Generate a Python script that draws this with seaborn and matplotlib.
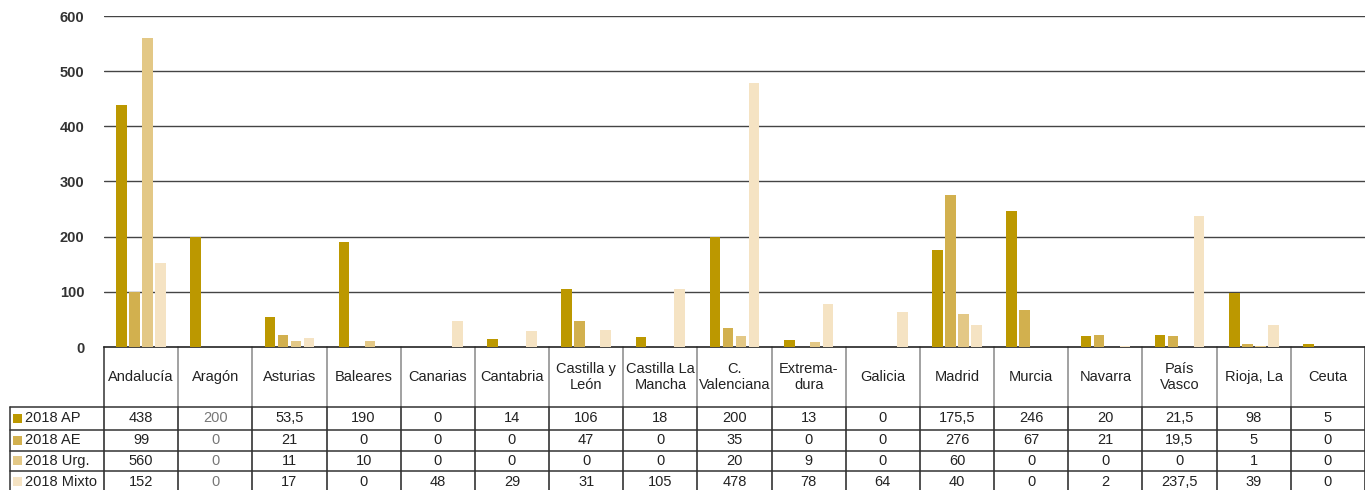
import matplotlib
matplotlib.use("Agg")
import matplotlib.pyplot as plt
import matplotlib.transforms as mtransforms
from matplotlib.lines import Line2D
from matplotlib.patches import Rectangle
import seaborn as sns
import pandas as pd

categories = ["Andalucía", "Aragón", "Asturias", "Baleares", "Canarias", "Cantabria",
              "Castilla y León", "Castilla La Mancha", "C. Valenciana", "Extremadura",
              "Galicia", "Madrid", "Murcia", "Navarra", "País Vasco", "Rioja, La", "Ceuta"]
header_labels = ["Andalucía", "Aragón", "Asturias", "Baleares", "Canarias", "Cantabria",
                 "Castilla y\nLeón", "Castilla La\nMancha", "C.\nValenciana", "Extrema-\ndura",
                 "Galicia", "Madrid", "Murcia", "Navarra", "País\nVasco", "Rioja, La", "Ceuta"]
series_names = ["2018 AP", "2018 AE", "2018 Urg.", "2018 Mixto"]
ap = [438, 200, 53.5, 190, 0, 14, 106, 18, 200, 13, 0, 175.5, 246, 20, 21.5, 98, 5]
ae = [99, 0, 21, 0, 0, 0, 47, 0, 35, 0, 0, 276, 67, 21, 19.5, 5, 0]
urg = [560, 0, 11, 10, 0, 0, 0, 0, 20, 9, 0, 60, 0, 0, 0, 1, 0]
mixto = [152, 0, 17, 0, 48, 29, 31, 105, 478, 78, 64, 40, 0, 2, 237.5, 39, 0]
yticks = [0, 100, 200, 300, 400, 500, 600]
colors = ["#BC9800", "#D2B04E", "#E3C886", "#F5E3C3"]

series_values = [ap, ae, urg, mixto]
rows = []
for name, vals in zip(series_names, series_values):
    for c, v in zip(categories, vals):
        rows.append({"region": c, "serie": name, "value": v})
df = pd.DataFrame(rows)

sns.set_style("white")
plt.rcParams["font.family"] = ["Liberation Sans", "DejaVu Sans"]

W, H = 1365, 490
fig = plt.figure(figsize=(W / 100, H / 100), dpi=100)
ax_left, ax_right, ax_top, ax_bot = 104, 1365, 16, 347
ax = fig.add_axes([ax_left / W, 1 - ax_bot / H, (ax_right - ax_left) / W, (ax_bot - ax_top) / H])

sns.barplot(data=df, x="region", y="value", hue="serie", order=categories,
            hue_order=series_names, palette=colors, width=0.7, gap=0.18,
            saturation=1, legend=False, ax=ax, zorder=3, linewidth=0)

ax.set_xlim(-0.5, len(categories) - 0.5)
ax.set_ylim(0, 600)
ax.set_yticks(yticks)
ax.set_yticklabels([str(t) for t in yticks], fontsize=10.5, fontweight="bold", color="#333333")
ax.tick_params(axis="y", length=0, pad=14)
ax.set_xticks([])
ax.set_xlabel("")
ax.set_ylabel("")
for y in yticks[1:]:
    ax.axhline(y, color="#444444", lw=1, zorder=1)
for s in ["top", "right", "left"]:
    ax.spines[s].set_visible(False)
ax.spines["bottom"].set_color("#222222")
ax.spines["bottom"].set_linewidth(1.2)

# ---- data table below the chart ----
tr = mtransforms.blended_transform_factory(ax.transData, fig.transFigure)
def fy(py):
    return 1 - py / H

header_top, header_bot = 347, 407
row_edges = [407, 429.5, 450.5, 471, 492]
label_left = 10
n = len(categories)
line_col = "#333333"

# vertical lines between categories
for i in range(n + 1):
    x = i - 0.5
    hc = "#888888" if 0 < i < n else "#333333"
    ax.add_line(Line2D([x, x], [fy(header_top), fy(header_bot)], transform=tr,
                       color=hc, lw=1.1, clip_on=False))
    ax.add_line(Line2D([x, x], [fy(header_bot), fy(H + 5)], transform=tr,
                       color="#222222", lw=1.1, clip_on=False))
# left border of row label column
fig.add_artist(Line2D([label_left / W, label_left / W], [fy(header_bot), fy(H + 5)],
                      transform=fig.transFigure, color=line_col, lw=1.1))
# horizontal lines
for py in row_edges[:-1]:
    fig.add_artist(Line2D([label_left / W, 1], [fy(py), fy(py)],
                          transform=fig.transFigure, color=line_col, lw=1.1))

# header labels
for i, lab in enumerate(header_labels):
    ax.text(i, fy((header_top + header_bot) / 2), lab, transform=tr, ha="center",
            va="center", fontsize=10.5, color="#222222", linespacing=1.15, clip_on=False)

def fmt(v):
    if float(v).is_integer():
        return str(int(v))
    return str(v).replace(".", ",")

for r, (name, vals, col) in enumerate(zip(series_names, series_values, colors)):
    yc = fy((row_edges[r] + row_edges[r + 1]) / 2)
    fig.add_artist(Rectangle((13 / W, yc - 4.5 / H), 9 / W, 9 / H, transform=fig.transFigure,
                             facecolor=col, edgecolor="none"))
    fig.text(25 / W, yc, name, ha="left", va="center", fontsize=10.5, color="#222222")
    for i, v in enumerate(vals):
        ax.text(i, yc, fmt(v), transform=tr, ha="center", va="center", fontsize=10.5,
                color="#777777" if categories[i] == "Aragón" else "#222222", clip_on=False)

fig.savefig("out.png", dpi=100)
